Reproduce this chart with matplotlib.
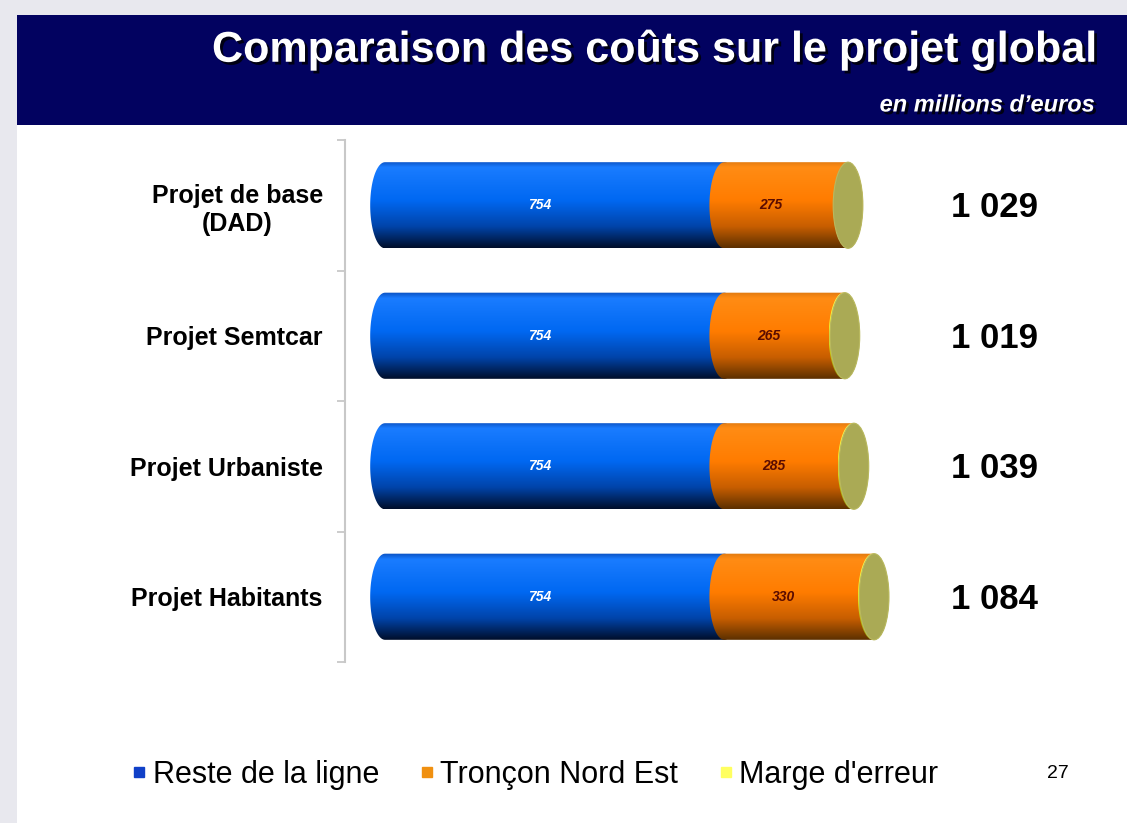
import numpy as np
import matplotlib.pyplot as plt
import matplotlib.patheffects as pe
from matplotlib.path import Path
from matplotlib.patches import PathPatch, Ellipse, Rectangle
from matplotlib.colors import LinearSegmentedColormap
from matplotlib.lines import Line2D

plt.rcParams['font.family'] = ['Liberation Sans', 'DejaVu Sans']

# data (millions d'euros)
projects = ['Projet de base\n(DAD)', 'Projet Semtcar', 'Projet Urbaniste', 'Projet Habitants']
reste = [754, 754, 754, 754]
troncon = [275, 265, 285, 330]
marge = [0, 3, 3, 3]
totals = [1029, 1019, 1039, 1084]
series_names = ['Reste de la ligne', 'Tronçon Nord Est', "Marge d'erreur"]

W, H = 1127, 823
fig = plt.figure(figsize=(W / 100, H / 100), dpi=100, facecolor='#e8e8ee')

def px(x, y, w, h):
    return [x / W, 1 - (y + h) / H, w / W, h / H]

# slide background + header band
fig.add_artist(Rectangle((17 / W, 0), 1, 1 - 15 / H, transform=fig.transFigure,
                         facecolor='white', edgecolor='none', zorder=0))
fig.add_artist(Rectangle((17 / W, 1 - 125 / H), 1, 110 / H, transform=fig.transFigure,
                         facecolor='#020260', edgecolor='none', zorder=0))

shadow = [pe.SimplePatchShadow(offset=(2, -2), shadow_rgbFace='black', alpha=0.8), pe.Normal()]
fig.text(1095 / W, 1 - 50 / H, 'Comparaison des coûts sur le projet global', ha='right', va='center',
         fontsize=31, fontweight='bold', color='white', path_effects=shadow)
fig.text(1095 / W, 1 - 105 / H, 'en millions d’euros', ha='right', va='center',
         fontsize=17, fontweight='bold', fontstyle='italic', color='white', path_effects=shadow)

ax = fig.add_axes(px(345, 140, 782, 522))
ax.set_facecolor('none')

cm_blue = LinearSegmentedColormap.from_list('b', [(0, '#0a50c0'), (0.07, '#1a7cff'), (0.45, '#0068f2'),
                                                  (0.75, '#0044aa'), (1, '#000e2a')])
cm_orange = LinearSegmentedColormap.from_list('o', [(0, '#e07a10'), (0.07, '#ff8c14'), (0.45, '#ff7c00'),
                                                    (0.75, '#c85e00'), (1, '#5c3000')])
cm_yellow = LinearSegmentedColormap.from_list('y', ['#ffff60', '#f0f020', '#909000'])

a = 33      # half width of the end ellipse (data units)
b = 0.33    # half bar height
grad = np.linspace(0, 1, 256).reshape(-1, 1)


def cylinder(x0, x1, yc, cmap):
    t1 = np.linspace(np.pi / 2, 3 * np.pi / 2, 50)
    t2 = np.linspace(-np.pi / 2, np.pi / 2, 50)
    left = np.column_stack([x0 + a * np.cos(t1), yc + b * np.sin(t1)])
    right = np.column_stack([x1 + a * np.cos(t2), yc + b * np.sin(t2)])
    verts = np.vstack([left, right, left[:1]])
    patch = PathPatch(Path(verts), facecolor='none', edgecolor='none')
    ax.add_patch(patch)
    im = ax.imshow(grad, cmap=cmap, extent=(x0 - a, x1 + a, yc + b, yc - b), origin='upper',
                   aspect='auto', interpolation='bilinear', zorder=2)
    im.set_clip_path(patch)


for i in range(len(projects)):
    start = 0
    cylinder(start, start + reste[i], i, cm_blue)
    ax.text(start + reste[i] / 2 - a, i, str(reste[i]), ha='center', va='center', color='white',
            fontsize=10, fontweight='bold', fontstyle='italic', zorder=5)
    start += reste[i]
    cylinder(start, start + troncon[i], i, cm_orange)
    ax.text(start + troncon[i] / 2 - a, i, str(troncon[i]), ha='center', va='center', color='#5a0c00',
            fontsize=10, fontweight='bold', fontstyle='italic', zorder=5)
    start += troncon[i]
    if marge[i] > 0:
        cylinder(start, start + marge[i], i, cm_yellow)
        start += marge[i]
    ax.add_patch(Ellipse((start, i), 2 * a, 2 * b, facecolor='#aaaa55', edgecolor='#b8b860',
                         linewidth=0.8, zorder=4))
    ax.text(0.831, i + 0.02, f'{totals[i]:,}'.replace(',', ' '), transform=ax.get_yaxis_transform(),
            ha='center', va='center', fontsize=25, fontweight='bold', color='black')

ax.set_xlim(-89, 1649)
ax.set_ylim(3.5, -0.5)
ax.set_yticks(range(len(projects)))
ax.set_yticklabels(projects, fontsize=18, fontweight='bold', multialignment='center')
ax.set_yticks(np.arange(-0.5, len(projects)), minor=True)
ax.tick_params(axis='y', which='major', length=0, pad=16)
ax.tick_params(axis='y', which='minor', length=6, color='#c4c4c4', width=1.2)
ax.set_xticks([])
for s in ['top', 'right', 'bottom']:
    ax.spines[s].set_visible(False)
ax.spines['left'].set_color('#c8c8c8')
ax.spines['left'].set_linewidth(1.5)

handles = [Line2D([], [], marker='s', ls='', color=c, markersize=7)
           for c in ['#1040c8', '#f09010', '#ffff60']]
fig.legend(handles, series_names, loc='center', bbox_to_anchor=(535 / W, 1 - 775 / H), ncol=3,
           frameon=False, fontsize=22, handlelength=0.5, handletextpad=0.2, columnspacing=1.3)
fig.text(1058 / W, 1 - 773 / H, '27', ha='center', va='center', fontsize=14)

fig.savefig('out.png', dpi=100, facecolor=fig.get_facecolor())
